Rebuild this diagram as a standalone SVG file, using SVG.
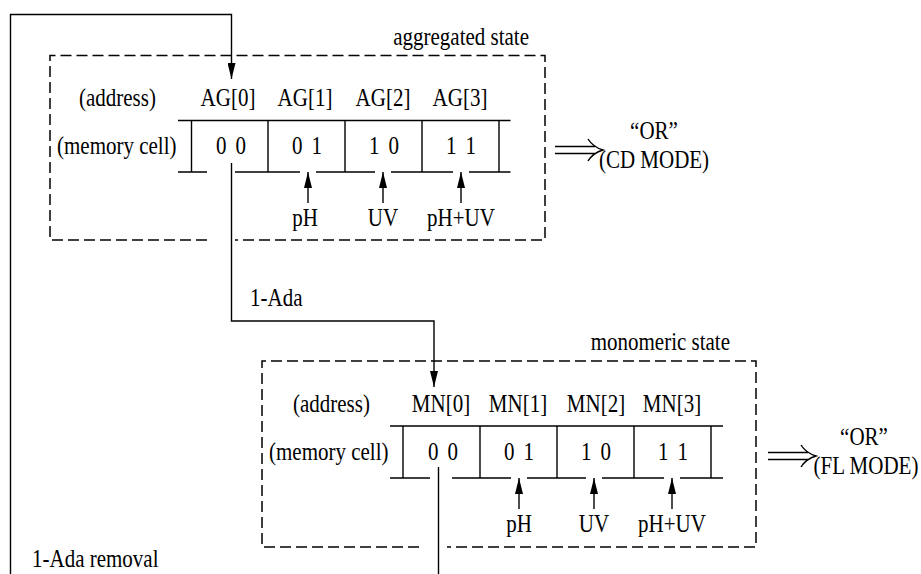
<svg xmlns="http://www.w3.org/2000/svg" width="921" height="574" viewBox="0 0 921 574">
<style>
.t{font-family:"Liberation Serif","Times New Roman",serif;font-size:21px;fill:#000}
.m{text-anchor:middle}
.e{text-anchor:end}
.d{word-spacing:4px}
.dash{fill:none;stroke:#000;stroke-width:1.5;stroke-dasharray:11 5}
.ln{fill:none;stroke:#000;stroke-width:1.4}
</style>
<defs>
<marker id="ah" markerUnits="userSpaceOnUse" markerWidth="16" markerHeight="8" refX="16" refY="4" orient="auto">
<path d="M0,0 L16,4 L0,8 z" fill="#000"/>
</marker>
</defs>
<rect width="921" height="574" fill="#fff"/>

<g id="aggregated">
<path class="dash" d="M207,240 H50 V55.5 H545 V240 H235"/>
<text class="t e" transform="translate(529,45) scale(1,1.2)">aggregated state</text>
<text class="t" transform="translate(79,106) scale(1,1.2)">(address)</text>
<text class="t m" transform="translate(228,106) scale(1,1.2)">AG[0]</text>
<text class="t m" transform="translate(305,106) scale(1,1.2)">AG[1]</text>
<text class="t m" transform="translate(383,106) scale(1,1.2)">AG[2]</text>
<text class="t m" transform="translate(460,106) scale(1,1.2)">AG[3]</text>
<text class="t" transform="translate(57,154) scale(1,1.2)">(memory cell)</text>
<path class="ln" d="M178,120.5 H510.5 M191.5,120.5 V172 M268,120.5 V172 M345,120.5 V172 M422,120.5 V172 M499,120.5 V172 M178,172 H207 M235,172 H300 M316,172 H375 M391,172 H453 M469,172 H510.5"/>
<text class="t m d" transform="translate(231,154) scale(1,1.2)">0 0</text>
<text class="t m d" transform="translate(307,154) scale(1,1.2)">0 1</text>
<text class="t m d" transform="translate(384,154) scale(1,1.2)">1 0</text>
<text class="t m d" transform="translate(461,154) scale(1,1.2)">1 1</text>
<text class="t m" transform="translate(305,226) scale(1,1.2)">pH</text>
<text class="t m" transform="translate(383,226) scale(1,1.2)">UV</text>
<text class="t m" transform="translate(461,226) scale(1,1.2)">pH+UV</text>
<path class="ln" d="M555,146.5 H595 M555,153.5 H595 M588,139 Q593,147 603,150 Q593,153 588,161"/>
<text class="t m" transform="translate(654,139) scale(1,1.2)">“OR”</text>
<text class="t m" transform="translate(654,168) scale(1,1.2)">(CD MODE)</text>
</g>

<g id="monomeric">
<path class="dash" d="M419,547 H262 V361 H756 V547 H447"/>
<text class="t e" transform="translate(730,350) scale(1,1.2)">monomeric state</text>
<text class="t" transform="translate(293,412) scale(1,1.2)">(address)</text>
<text class="t m" transform="translate(441,412) scale(1,1.2)">MN[0]</text>
<text class="t m" transform="translate(518,412) scale(1,1.2)">MN[1]</text>
<text class="t m" transform="translate(596,412) scale(1,1.2)">MN[2]</text>
<text class="t m" transform="translate(672,412) scale(1,1.2)">MN[3]</text>
<text class="t" transform="translate(269,460) scale(1,1.2)">(memory cell)</text>
<path class="ln" d="M390,426 H723 M403,426 V478 M480,426 V478 M557,426 V478 M634,426 V478 M711,426 V478 M390,478 H430 M452,478 H511 M527,478 H586 M602,478 H664 M680,478 H723"/>
<text class="t m d" transform="translate(443,460) scale(1,1.2)">0 0</text>
<text class="t m d" transform="translate(519,460) scale(1,1.2)">0 1</text>
<text class="t m d" transform="translate(596,460) scale(1,1.2)">1 0</text>
<text class="t m d" transform="translate(673,460) scale(1,1.2)">1 1</text>
<text class="t m" transform="translate(519,532) scale(1,1.2)">pH</text>
<text class="t m" transform="translate(594,532) scale(1,1.2)">UV</text>
<text class="t m" transform="translate(672,532) scale(1,1.2)">pH+UV</text>
<path class="ln" d="M768,452.5 H808 M768,459.5 H808 M801,445 Q806,453 816,456 Q806,459 801,467"/>
<text class="t m" transform="translate(864,445) scale(1,1.2)">“OR”</text>
<text class="t m" transform="translate(866,474) scale(1,1.2)">(FL MODE)</text>
</g>

<g id="connectors">
<path class="ln" d="M10.5,574 V14.5 H231.5 V79" marker-end="url(#ah)"/>
<path class="ln" d="M231.5,163 V321 H434 V387" marker-end="url(#ah)"/>
<path class="ln" d="M438.5,467 V574"/>
<path class="ln" d="M308,203 V172" marker-end="url(#ah)"/>
<path class="ln" d="M383,203 V172" marker-end="url(#ah)"/>
<path class="ln" d="M461,203 V172" marker-end="url(#ah)"/>
<path class="ln" d="M519,509 V478" marker-end="url(#ah)"/>
<path class="ln" d="M594,509 V478" marker-end="url(#ah)"/>
<path class="ln" d="M672,509 V478" marker-end="url(#ah)"/>
<text class="t" transform="translate(250,306) scale(1,1.2)">1-Ada</text>
<text class="t" transform="translate(32,567) scale(1,1.2)">1-Ada removal</text>
</g>
</svg>
